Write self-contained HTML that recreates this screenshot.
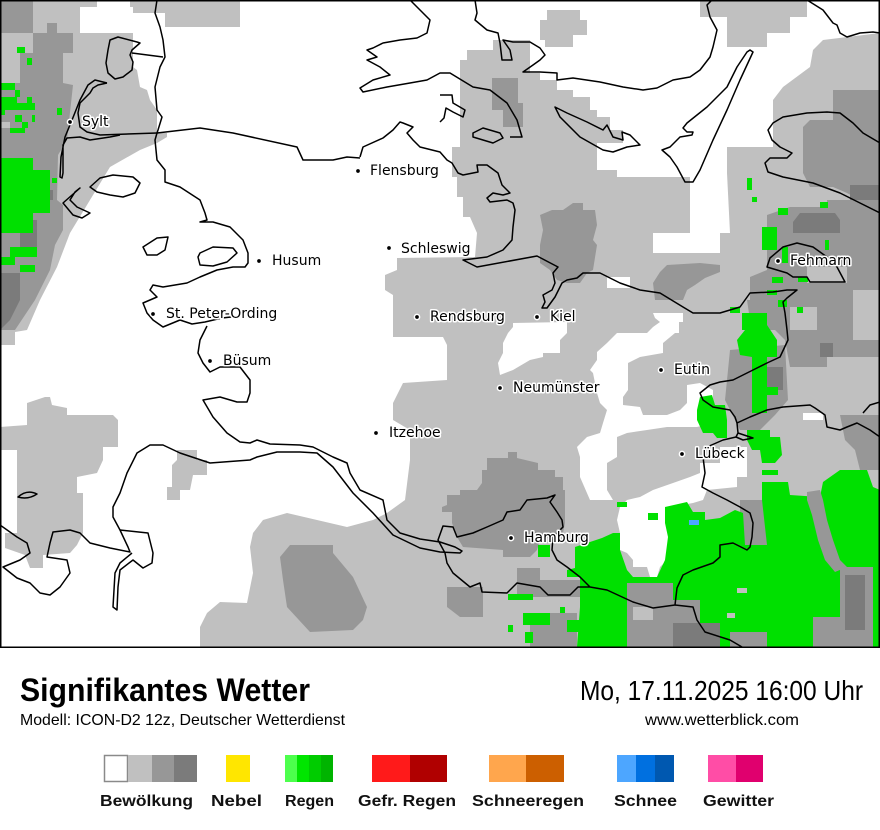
<!DOCTYPE html>
<html><head><meta charset="utf-8"><style>html,body{margin:0;padding:0;background:#fff}svg{display:block}</style></head>
<body>
<svg width="880" height="830" viewBox="0 0 880 830" xmlns="http://www.w3.org/2000/svg">
<rect width="880" height="830" fill="#fff"/>
<g id="map">
<rect x="0" y="0" width="880" height="647" fill="#c0c0c0"/>
<!-- white areas -->
<g fill="#fff">
<polygon points="133,13 165,13 165,27 240,27 240,0 880,0 880,33 823,40 813,50 810,67 783,87 773,100 773,147 727,147 727,173 730,233 720,233 720,253 653,253 653,233 690,233 690,177 617,177 617,170 597,170 597,143 623,143 623,130 610,130 610,117 597,117 597,110 590,110 590,97 573,97 573,90 557,90 557,80 540,80 540,73 530,73 530,40 493,40 493,50 467,50 467,60 460,60 460,147 452,147 452,177 457,177 457,197 463,197 463,217 470,217 477,233 475,257 397,258 397,270 385,275 385,290 393,295 393,337 443,337 447,345 447,380 403,383 393,403 393,420 410,430 410,460 405,500 387,513 373,520 347,527 317,520 287,513 263,520 253,533 250,547 253,573 247,603 220,602 207,613 200,627 200,648 0,648 0,345 15,345 15,332 27,330 40,300 57,267 70,233 90,200 110,167 140,150 157,143 167,137 167,133 157,133 157,110 150,100 147,90 140,87 137,70 133,67"/>
<rect x="80" y="7" width="53" height="26"/>
<rect x="97" y="0" width="33" height="7"/>
<polygon points="653,313 683,313 683,322 679,322 679,333 675,333 663,343 663,353 640,357 628,363 628,390 623,397 623,405 640,407 643,415 667,415 680,410 687,403 687,385 700,383 713,390 713,423 697,427 667,427 647,430 627,433 617,437 617,457 607,463 607,490 613,500 590,500 580,477 580,457 577,447 587,437 600,433 603,423 607,410 600,403 597,393 593,373 590,370 597,360 597,352 607,343 617,333 647,333 653,327 660,322 655,318"/>
<polygon points="513,323 567,322 567,333 560,340 560,353 543,353 543,357 530,360 513,370 500,375 498,363 503,353 503,343 508,333 513,327"/>
<polygon points="700,463 720,463 720,447 747,447 747,477 737,477 737,487 707,490 703,500 693,503 670,507 670,540 667,560 660,567 657,577 650,577 647,567 633,567 633,560 627,553 620,550 620,533 617,520 620,507 627,500 640,497 653,490 673,483 690,477 700,473"/>
<rect x="607" y="277" width="23" height="11"/>
<rect x="803" y="413" width="20" height="7"/>
<rect x="867" y="220" width="13" height="20"/>
</g>
<!-- light gray blobs over white -->
<g fill="#c0c0c0">
<polygon points="547,10 580,10 580,20 587,20 587,35 573,35 573,47 545,47 545,40 540,40 540,20 547,20"/>
<polygon points="700,0 807,0 807,17 790,17 790,33 767,33 767,47 727,47 727,17 700,17"/>
<polygon points="27,403 45,397 50,397 52,405 67,408 67,415 113,415 118,420 118,447 103,447 103,460 97,473 77,477 77,493 83,493 83,533 77,545 70,553 43,555 43,568 30,568 25,555 5,548 5,533 17,533 17,450 0,450 0,427 27,425"/>
<polygon points="177,450 197,450 197,460 207,460 207,475 193,475 190,490 180,490 180,500 167,500 167,487 172,487 172,465 177,460"/>
</g>
<!-- medium gray -->
<g fill="#979797">
<rect x="0" y="0" width="33" height="33"/>
<polygon points="47,23 57,23 57,33 73,33 73,53 63,53 63,83 73,85 67,140 58,155 57,200 63,205 63,230 55,245 50,270 35,300 15,330 0,330 0,83 20,83 20,53 33,53 33,33 47,33"/>
<polygon points="492,78 518,78 518,103 523,103 523,127 503,127 503,110 492,110"/>
<polygon points="573,203 583,203 583,210 595,210 597,225 593,240 597,245 593,270 587,273 580,283 567,283 557,280 550,270 540,263 540,245 543,230 540,215 552,210 563,210"/>
<polygon points="667,265 700,263 720,265 720,272 705,278 695,285 687,290 683,300 655,300 653,283 660,272"/>
<polygon points="833,90 880,90 880,200 860,200 847,193 833,187 810,187 803,173 803,127 810,120 833,120"/>
<polygon points="827,200 880,200 880,330 750,330 750,277 767,270 767,215 790,207 827,207"/>
<polygon points="747,300 850,300 850,313 880,313 880,357 827,357 827,367 790,367 785,340 775,330 760,330 750,320"/>
<polygon points="730,350 785,345 788,400 775,415 760,430 740,430 725,400"/>
<polygon points="840,415 880,415 880,470 860,470 855,450 845,440"/>
<polygon points="740,500 767,500 767,547 740,547"/>
<polygon points="508,452 517,452 517,458 538,463 538,470 555,470 555,477 563,477 563,490 565,490 565,523 563,533 540,540 537,550 530,557 503,557 503,550 463,547 457,537 452,523 452,512 442,512 442,507 447,505 447,495 460,495 460,490 477,490 482,483 482,470 487,470 487,458 508,458"/>
<polygon points="290,545 333,545 333,553 353,577 367,607 363,620 353,630 310,632 287,607 283,580 280,557"/>
<polygon points="447,587 483,587 483,617 460,617 447,607"/>
<polygon points="517,568 540,568 540,580 590,580 590,597 517,597"/>
<polygon points="530,613 577,613 577,647 530,647"/>
</g>
<!-- dark gray -->
<g fill="#7b7b7b">
<polygon points="0,273 20,273 20,300 10,320 0,330"/>
<rect x="20" y="220" width="17" height="33"/>
<rect x="37" y="190" width="16" height="10"/>
<polygon points="800,213 835,213 840,220 840,233 793,233 793,222"/>
<rect x="850" y="185" width="30" height="15"/>
<rect x="767" y="367" width="16" height="23"/>
<rect x="820" y="343" width="13" height="14"/>
</g>
<!-- light gray patches in MG -->
<g fill="#c0c0c0">
<rect x="807" y="267" width="40" height="16"/>
<rect x="853" y="290" width="27" height="50"/>
<rect x="790" y="307" width="27" height="23"/>
<rect x="0" y="122" width="10" height="6"/>
</g>
<!-- green -->
<g fill="#00e000">
<rect x="17" y="47" width="8" height="6"/>
<rect x="27" y="58" width="5" height="7"/>
<rect x="0" y="83" width="15" height="7"/>
<rect x="15" y="90" width="5" height="7"/>
<rect x="0" y="97" width="17" height="6"/>
<rect x="27" y="97" width="5" height="6"/>
<rect x="0" y="103" width="35" height="7"/>
<rect x="0" y="110" width="5" height="5"/>
<rect x="15" y="115" width="7" height="7"/>
<rect x="32" y="115" width="3" height="7"/>
<rect x="22" y="122" width="6" height="6"/>
<rect x="10" y="128" width="15" height="5"/>
<rect x="57" y="108" width="5" height="7"/>
<rect x="0" y="158" width="33" height="75"/>
<rect x="33" y="170" width="17" height="43"/>
<rect x="52" y="178" width="5" height="5"/>
<rect x="10" y="247" width="27" height="10"/>
<rect x="0" y="257" width="15" height="8"/>
<rect x="20" y="265" width="15" height="7"/>
<rect x="747" y="178" width="5" height="12"/>
<rect x="752" y="197" width="5" height="5"/>
<rect x="778" y="208" width="10" height="7"/>
<rect x="820" y="202" width="8" height="6"/>
<rect x="762" y="227" width="15" height="23"/>
<rect x="782" y="247" width="6" height="16"/>
<rect x="825" y="240" width="4" height="10"/>
<rect x="772" y="277" width="11" height="6"/>
<rect x="798" y="277" width="10" height="5"/>
<rect x="767" y="290" width="10" height="5"/>
<rect x="778" y="300" width="9" height="7"/>
<rect x="797" y="307" width="6" height="6"/>
<rect x="730" y="307" width="10" height="6"/>
<rect x="742" y="313" width="25" height="17"/>
<polygon points="745,313 757,313 757,325 767,325 777,340 777,357 767,357 767,387 778,387 778,395 767,395 767,413 752,413 752,357 740,355 737,340 745,330"/>
<polygon points="747,430 770,430 770,437 780,437 782,455 775,463 762,463 760,450 752,450 747,440"/>
<rect x="762" y="470" width="16" height="5"/>
<polygon points="700,397 712,395 715,405 725,405 727,420 727,438 717,438 713,433 703,433 697,420 697,410"/>
<polygon points="575,547 602,538 613,533 620,533 620,550 627,570 633,577 657,577 665,560 668,537 665,523 665,507 687,502 693,512 705,512 705,520 720,518 735,510 743,513 745,545 767,545 762,500 762,482 788,482 790,495 820,497 823,482 840,470 867,470 873,487 880,490 880,647 577,647 580,607 580,577 567,577 567,570 575,568"/>
<rect x="617" y="502" width="10" height="5"/>
<rect x="648" y="513" width="10" height="7"/>
<rect x="538" y="545" width="12" height="12"/>
<rect x="508" y="594" width="25" height="6"/>
<rect x="523" y="613" width="27" height="12"/>
<rect x="508" y="625" width="5" height="7"/>
<rect x="525" y="632" width="8" height="11"/>
<rect x="560" y="607" width="5" height="6"/>
<rect x="567" y="620" width="13" height="12"/>
</g>
<!-- gray inside green -->
<g fill="#979797">
<polygon points="807,492 820,490 823,500 827,520 833,540 840,560 847,567 835,572 825,560 818,540 812,515 807,500"/>
<polygon points="840,567 873,567 873,647 813,647 813,617 840,617"/>
<polygon points="627,583 673,583 673,600 700,600 700,623 673,623 673,647 627,647"/>
<rect x="730" y="632" width="37" height="15"/>
</g>
<g fill="#7b7b7b">
<rect x="845" y="575" width="20" height="55"/>
<rect x="673" y="623" width="47" height="24"/>
</g>
<g fill="#c0c0c0">
<rect x="737" y="588" width="10" height="5"/>
<rect x="727" y="613" width="8" height="5"/>
<rect x="633" y="607" width="20" height="13"/>
</g>
<rect x="689" y="520" width="10" height="5" fill="#4da6ff"/>
<!-- coastlines -->
<g fill="none" stroke="#000" stroke-width="1.5" stroke-linejoin="round">
<path d="M110,40 L118,37 L137,42 L140,43 L132,50 L130,55 L133,62 L132,70 L123,77 L115,79 L108,73 L106,63 L108,50 Z"/>
<path d="M132,53 L163,57"/>
<path d="M107,83 L95,80 L88,85 L80,100 L72,120 L65,137 L61,157 L60,177 L62,178 L63,173 L63,145 L67,138 L80,137 L90,140 L110,137 L120,135"/>
<path d="M107,83 L98,85 L93,88 L90,93 L80,103 L78,113 L80,127 L87,132 L100,135 L157,133"/>
<path d="M157,133 L200,128 L233,133 L297,147 L303,160 L333,160 L347,157 L360,158"/>
<path d="M157,0 L155,13 L160,27 L163,40 L165,57 L160,67 L155,87 L157,110 L162,117 L158,130 L157,133 L155,140 L157,160 L165,170 L165,182 L180,187 L200,200 L205,213 L207,220 L200,222 L213,222 L230,227 L243,240 L248,253 L248,263 L245,267 L233,267 L217,270 L200,277 L187,283 L163,287 L153,285 L150,290 L157,297 L150,300 L143,303 L147,313 L153,320 L163,327 L180,320 L192,324 L205,322 L222,318 L240,316"/>
<path d="M207,326 L200,340 L198,353 L203,363 L210,372 L220,367 L240,367 L250,380 L250,393 L247,402 L237,402 L220,397 L203,400 L213,417 L227,433 L240,442 L250,443 L257,440 L270,444 L300,445 L313,447 L333,457 L347,463 L350,473 L360,490 L383,500 L387,520 L400,533 L420,539 L440,542 L455,547 L462,551 L460,553 L440,552 L420,548 L393,535 L373,513 L353,493 L333,467 L317,453 L300,452 L277,452 L257,457 L250,460 L210,463 L180,453 L163,445 L150,445 L137,453 L127,473 L120,493 L113,507 L113,517 L120,530 L128,547 L130,552 L110,548 L90,543 L80,533 L70,530 L53,532 L50,543 L47,557 L67,560 L70,573 L60,587 L50,595 L40,593 L30,583 L17,578 L3,567 L20,560 L30,553 L27,543 L17,537 L0,525"/>
<path d="M120,530 L148,533 L153,553 L152,563 L143,568 L133,560 L120,570 L118,587 L117,610 L113,607 L115,573 L120,563 L132,553"/>
<path d="M18,497 Q27,489 37,494 Q28,500 18,497 Z"/>
<path d="M90,187 L100,178 L113,175 L133,177 L140,183 L135,193 L123,197 L110,195 L97,192 Z"/>
<path d="M63,203 L80,188 L75,192 L70,200 L77,207 L90,213 L82,218 L73,215 Z"/>
<path d="M143,247 L157,238 L168,237 L165,250 L157,255 L147,255 Z"/>
<path d="M200,253 L213,247 L233,248 L237,253 L227,262 L213,266 L200,265 L198,257 Z"/>
<path d="M410,0 L423,13 L430,20 L427,33 L417,38 L400,40 L383,43 L373,48 L367,50 L377,57 L367,60 L380,67 L390,75 L373,80 L360,88 L363,92 L387,87 L410,83 L427,80 L440,73 L450,73 L473,87 L490,90 L507,103 L517,120 L522,137 L510,137"/>
<path d="M440,95 L452,95 L453,103 L465,110 L463,117 L453,112 L446,108 L444,118 L440,122"/>
<path d="M473,133 L483,128 L500,133 L503,138 L493,143 L483,140 L473,137 Z"/>
<path d="M360,157 L363,147 L383,138 L393,130 L400,122 L403,123 L413,127 L407,133 L413,140 L420,147 L440,152 L447,160 L452,163 L458,173 L463,175 L478,172 L477,165 L487,165 L498,173 L502,185 L510,193 L503,195 L493,193 L487,198 L490,202 L507,200 L513,203 L515,210 L513,227 L512,240 L503,250 L487,257 L463,260 L477,267 L537,256 L558,267 L553,273 L555,283 L552,290 L543,295 L545,302 L542,308 L547,308 L555,297 L562,283 L567,280 L577,278 L583,273 L600,273 L620,283 L640,290 L660,293 L683,307 L693,313 L720,313 L740,307 L750,293 L773,292 L787,290 L797,290 L787,298 L783,302 L785,313 L787,330 L788,340 L780,357 L767,363 L753,370 L733,380 L720,382 L710,385 L700,393 L703,400 L713,407 L730,410 L735,417 L737,423 L738,433 L736,437"/>
<path d="M737,423 L750,417 L767,410 L783,407 L810,405 L815,408 L825,415 L827,427 L840,430 L847,427 L857,423 L870,430 L880,437"/>
<path d="M863,413 L870,405 L880,402"/>
<path d="M738,433 L753,438 L743,440 L736,437"/>
<path d="M736,437 L723,440 L707,447 L703,457 L705,473 L702,487 L713,493 L727,500 L740,507 L750,513 L753,523 L752,537 L750,547 L747,550 L733,543 L720,545 L720,557 L713,563 L693,570 L683,575 L677,588 L675,605 L653,608 L633,602 L607,590 L590,587 L580,577 L567,567 L557,560 L552,550 L553,537 L563,527 L562,520 L557,512 L550,502 L555,495 L547,498 L527,500 L520,510 L507,512 L503,520 L487,527 L473,533 L457,537 L453,527 L443,526 L438,540 L445,553 L447,563 L453,573 L470,587 L480,583 L482,592 L507,593 L517,583 L540,587 L548,595 L570,595 L578,587 L590,587"/>
<path d="M675,605 L693,607 L697,620 L705,632 L730,640 L742,647"/>
<path d="M767,267 L770,258 L783,247 L797,243 L813,247 L827,257 L837,267 L845,282 L810,282 L807,277 L793,277 L787,273 L777,270 Z"/>
<path d="M880,143 L863,133 L853,123 L840,113 L827,112 L807,113 L783,117 L773,123 L768,130 L772,140 L780,147 L792,153 L787,158 L770,158 L765,163 L768,172 L783,177 L813,183 L840,193 L860,203 L880,213"/>
<path d="M807,0 L823,10 L833,23 L837,25 L840,33 L847,37 L860,33 L873,32 L880,33"/>
<path d="M750,50 L747,52 L737,67 L727,87 L707,107 L687,123 L683,128 L687,132 L693,132 L692,135 L680,137 L670,147 L662,150 L670,157 L677,167 L685,182 L693,182 L700,170 L713,140 L727,110 L740,80 L753,52 Z"/>
<path d="M555,107 L567,113 L587,122 L603,130 L607,125 L613,137 L623,140 L622,132 L630,135 L640,145 L627,147 L613,152 L603,150 L580,137 L560,117 Z"/>
<path d="M475,0 L477,13 L475,20 L487,30 L498,33 L500,43 L502,60 L512,60 L510,50 L503,40 L513,42 L530,42 L540,48 L545,55 L540,60 L533,65 L523,72 L540,72 L557,73 L557,80 L573,78 L600,82 L623,87 L643,90 L657,88 L673,80 L690,77 L700,70 L710,57 L713,47 L717,30 L710,17 L707,5 L712,0"/>
</g>
<!-- cities -->
<g fill="#000" stroke="#fff" stroke-width="1.5">
<circle cx="70" cy="122" r="2.6"/>
<circle cx="358" cy="171" r="2.6"/>
<circle cx="389" cy="248" r="2.6"/>
<circle cx="259" cy="261" r="2.6"/>
<circle cx="153" cy="314" r="2.6"/>
<circle cx="417" cy="317" r="2.6"/>
<circle cx="537" cy="317" r="2.6"/>
<circle cx="778" cy="261" r="2.6"/>
<circle cx="210" cy="361" r="2.6"/>
<circle cx="500" cy="388" r="2.6"/>
<circle cx="661" cy="370" r="2.6"/>
<circle cx="376" cy="433" r="2.6"/>
<circle cx="682" cy="454" r="2.6"/>
<circle cx="511" cy="538" r="2.6"/>
</g>
<g font-family="'DejaVu Sans', 'Liberation Sans', sans-serif" font-size="14" fill="#000" stroke="#fff" stroke-width="3" paint-order="stroke" stroke-linejoin="round">
<text x="82" y="126">Sylt</text>
<text x="370" y="175">Flensburg</text>
<text x="401" y="253">Schleswig</text>
<text x="272" y="265">Husum</text>
<text x="166" y="318">St. Peter-Ording</text>
<text x="430" y="321">Rendsburg</text>
<text x="550" y="321">Kiel</text>
<text x="790" y="265">Fehmarn</text>
<text x="223" y="365">Büsum</text>
<text x="513" y="392">Neumünster</text>
<text x="674" y="374">Eutin</text>
<text x="389" y="437">Itzehoe</text>
<text x="695" y="458">Lübeck</text>
<text x="524" y="542">Hamburg</text>
</g>
<rect x="0.75" y="0.75" width="878.5" height="646.5" fill="none" stroke="#000" stroke-width="1.5"/>
</g>
<!-- header -->
<g font-family="'Liberation Sans', sans-serif" fill="#000">
<text x="20" y="701" font-size="32" font-weight="bold" textLength="290" lengthAdjust="spacingAndGlyphs">Signifikantes Wetter</text>
<text x="20" y="725" font-size="16" textLength="325" lengthAdjust="spacingAndGlyphs">Modell: ICON-D2 12z, Deutscher Wetterdienst</text>
<text x="580" y="700" font-size="28" textLength="283" lengthAdjust="spacingAndGlyphs">Mo, 17.11.2025 16:00 Uhr</text>
<text x="645" y="725" font-size="16" textLength="154" lengthAdjust="spacingAndGlyphs">www.wetterblick.com</text>
</g>
<!-- legend -->
<g>
<rect x="104.5" y="755.5" width="23" height="26" fill="#fff" stroke="#8a8a8a" stroke-width="1.5"/>
<rect x="128" y="755" width="24" height="27" fill="#c0c0c0"/>
<rect x="152" y="755" width="22" height="27" fill="#979797"/>
<rect x="174" y="755" width="23" height="27" fill="#7b7b7b"/>
<rect x="226" y="755" width="24" height="27" fill="#ffe600"/>
<rect x="285" y="755" width="12" height="27" fill="#4dff4d"/>
<rect x="297" y="755" width="12" height="27" fill="#00e600"/>
<rect x="309" y="755" width="12" height="27" fill="#00cc00"/>
<rect x="321" y="755" width="12" height="27" fill="#00b400"/>
<rect x="372" y="755" width="38" height="27" fill="#ff1a1a"/>
<rect x="410" y="755" width="37" height="27" fill="#b00000"/>
<rect x="489" y="755" width="37" height="27" fill="#ffa64d"/>
<rect x="526" y="755" width="38" height="27" fill="#cc5f00"/>
<rect x="617" y="755" width="19" height="27" fill="#4da6ff"/>
<rect x="636" y="755" width="19" height="27" fill="#0070e0"/>
<rect x="655" y="755" width="19" height="27" fill="#0058b0"/>
<rect x="708" y="755" width="28" height="27" fill="#ff4da6"/>
<rect x="736" y="755" width="27" height="27" fill="#e0006e"/>
</g>
<g font-family="'Liberation Sans', sans-serif" font-size="16" font-weight="bold" fill="#111">
<text x="100" y="806" textLength="93" lengthAdjust="spacingAndGlyphs">Bewölkung</text>
<text x="211" y="806" textLength="51" lengthAdjust="spacingAndGlyphs">Nebel</text>
<text x="285" y="806" textLength="49" lengthAdjust="spacingAndGlyphs">Regen</text>
<text x="358" y="806" textLength="98" lengthAdjust="spacingAndGlyphs">Gefr. Regen</text>
<text x="472" y="806" textLength="112" lengthAdjust="spacingAndGlyphs">Schneeregen</text>
<text x="614" y="806" textLength="63" lengthAdjust="spacingAndGlyphs">Schnee</text>
<text x="703" y="806" textLength="71" lengthAdjust="spacingAndGlyphs">Gewitter</text>
</g>
</svg>
</body></html>
